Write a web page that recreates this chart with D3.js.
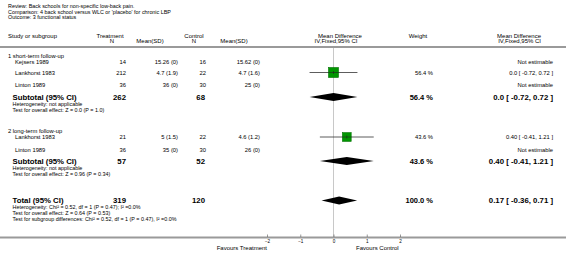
<!DOCTYPE html>
<html><head><meta charset="utf-8">
<script src="https://cdn.jsdelivr.net/npm/d3@7/dist/d3.min.js"></script>
<style>html,body{margin:0;padding:0;background:#fff}svg{display:block}text{font-family:"Liberation Sans",Arial,sans-serif;fill:#000}</style>
</head><body>
<script>
// ---- data ----
const titleLines = ["Review:  Back schools for non-specific low-back pain.",
  "Comparison:  4 back school versus WLC or 'placebo' for chronic LBP",
  "Outcome:  3 functional status"];
const groupLabels = ["1 short-term follow-up", "2 long-term follow-up"];
const studyNames = ["Kejsers 1989", "Lankhorst 1983", "Linton 1989", "Lankhorst 1983", "Linton 1989"];
const studyGroup = [0, 0, 0, 1, 1];
const treatN = [14, 212, 36, 21, 36];
const treatMeanSD = ["15.26 (0)", "4.7 (1.9)", "36 (0)", "5 (1.5)", "35 (0)"];
const ctrlN = [16, 22, 30, 22, 30];
const ctrlMeanSD = ["15.62 (0)", "4.7 (1.6)", "25 (0)", "4.6 (1.2)", "26 (0)"];
const studyMD = [null, 0.0, null, 0.40, null];
const studyLo = [null, -0.72, null, -0.41, null];
const studyHi = [null, 0.72, null, 1.21, null];
const studyWeight = [null, 56.4, null, 43.6, null];
const studyLabel = ["Not estimable", "0.0 [ -0.72, 0.72 ]", "Not estimable", "0.40 [ -0.41, 1.21 ]", "Not estimable"];

const subTreatN = [262, 57];
const subCtrlN = [68, 52];
const subMD = [0.0, 0.40];
const subLo = [-0.72, -0.41];
const subHi = [0.72, 1.21];
const subWeight = ["56.4 %", "43.6 %"];
const subLabel = ["0.0 [ -0.72, 0.72 ]", "0.40 [ -0.41, 1.21 ]"];
const subHet = ["Heterogeneity: not applicable", "Heterogeneity: not applicable"];
const subTest = ["Test for overall effect: Z = 0.0 (P = 1.0)", "Test for overall effect: Z = 0.96 (P = 0.34)"];

const totalTreatN = 319, totalCtrlN = 120;
const totalMD = 0.17, totalLo = -0.36, totalHi = 0.71;
const totalWeight = "100.0 %";
const totalLabel = "0.17 [ -0.36, 0.71 ]";
const totalNotes = ["Heterogeneity: Chi\u00B2 = 0.52, df = 1 (P = 0.47); I\u00B2 =0.0%",
  "Test for overall effect: Z = 0.64 (P = 0.53)",
  "Test for subgroup differences: Chi\u00B2 = 0.52, df = 1  (P = 0.47), I\u00B2 =0.0%"];

const axisTicks = [-2, -1, 0, 1, 2];
const favoursLeft = "Favours Treatment", favoursRight = "Favours Control";

// ---- layout ----
const W = 566, H = 260;
const svg = d3.select("body").append("svg").attr("width", W).attr("height", H);
svg.append("rect").attr("width", W).attr("height", H).attr("fill", "#fff");

const x = d3.scaleLinear().domain([-2, 2]).range([267, 400]);
const xN_T = 126, xM_T = 178, xN_C = 206, xM_C = 260, xW = 433, xE = 553;
const fRow = 5.8, fHead = 6, fNote = 5.4, fBold = 7.8;

function txt(s, xx, yy, opt = {}) {
  return svg.append("text").attr("x", xx).attr("y", yy).attr("dy", "0.35em")
    .attr("font-size", opt.size || fRow)
    .attr("font-weight", opt.bold ? "bold" : null)
    .attr("text-anchor", opt.anchor || "start")
    .text(s);
}

// titles
titleLines.forEach((s, i) => txt(s, 8, 6 + i * 5.7, {size: 5.4}));

// column headers
const h1 = 35.5, h2 = 41;
txt("Study or subgroup", 8, h1, {size: fHead});
txt("Treatment", 110, h1, {size: fHead, anchor: "middle"});
txt("N", 112, h2, {size: fHead, anchor: "middle"});
txt("Mean(SD)", 150, h2, {size: fHead, anchor: "middle"});
txt("Control", 194, h1, {size: fHead, anchor: "middle"});
txt("N", 194, h2, {size: fHead, anchor: "middle"});
txt("Mean(SD)", 234, h2, {size: fHead, anchor: "middle"});
txt("Mean Difference", 340, h1, {size: fHead, anchor: "middle"});
txt("IV,Fixed,95% CI", 336, h2, {size: fHead, anchor: "middle"});
txt("Weight", 418, h1, {size: fHead, anchor: "middle"});
txt("Mean Difference", 541, h1, {size: fHead, anchor: "end"});
txt("IV,Fixed,95% CI", 541, h2, {size: fHead, anchor: "end"});

const ruleY = 47, axisY = 237.5;
svg.append("line").attr("x1", 0).attr("x2", W).attr("y1", ruleY).attr("y2", ruleY)
  .attr("stroke", "#9a9a9a").attr("stroke-width", 2);

// zero line
svg.append("line").attr("x1", x(0)).attr("x2", x(0)).attr("y1", ruleY + 1).attr("y2", axisY)
  .attr("stroke", "#c8c8c8").attr("stroke-width", 1);

// rows
const groupY = [55.5, 130.5];
const studyY = [61.5, 72.5, 85, 137, 149.5];
const subY = [97, 161];
const sqK = 1.33;

groupLabels.forEach((g, i) => txt(g, 8, groupY[i], {size: fRow}));

studyNames.forEach((s, i) => {
  const y = studyY[i];
  txt(s, 15, y, {size: fRow});
  txt(treatN[i], xN_T, y, {size: fRow, anchor: "end"});
  txt(treatMeanSD[i], xM_T, y, {size: fRow, anchor: "end"});
  txt(ctrlN[i], xN_C, y, {size: fRow, anchor: "end"});
  txt(ctrlMeanSD[i], xM_C, y, {size: fRow, anchor: "end"});
  txt(studyLabel[i], xE, y, {size: fRow, anchor: "end"});
  if (studyMD[i] !== null) {
    txt(studyWeight[i].toFixed(1) + " %", xW, y, {size: fRow, anchor: "end"});
    svg.append("line").attr("x1", x(studyLo[i])).attr("x2", x(studyHi[i]))
      .attr("y1", y).attr("y2", y).attr("stroke", "#333").attr("stroke-width", 0.8);
    const s2 = sqK * Math.sqrt(studyWeight[i]) / 2;
    svg.append("rect").attr("x", x(studyMD[i]) - s2).attr("y", y - s2)
      .attr("width", 2 * s2).attr("height", 2 * s2)
      .attr("fill", "#009600").attr("stroke", "#007000").attr("stroke-width", 0.6);
    svg.append("line").attr("x1", x(studyMD[i])).attr("x2", x(studyMD[i]))
      .attr("y1", y - 1.5).attr("y2", y + 1.5).attr("stroke", "#222").attr("stroke-width", 0.6);
    svg.append("line").attr("x1", x(studyMD[i]) - s2).attr("x2", x(studyMD[i]) + s2)
      .attr("y1", y).attr("y2", y).attr("stroke", "#222").attr("stroke-width", 0.6);
  }
});

function diamond(md, lo, hi, y) {
  const p = [[x(lo), y], [x(md), y - 4], [x(hi), y], [x(md), y + 4]];
  svg.append("path").attr("d", "M" + p.join("L") + "Z").attr("fill", "#000");
}

subY.forEach((y, i) => {
  txt("Subtotal (95% CI)", 12.5, y, {size: fBold, bold: true});
  txt(subTreatN[i], xN_T, y, {size: fBold, bold: true, anchor: "end"});
  txt(subCtrlN[i], xN_C - 1, y, {size: fBold, bold: true, anchor: "end"});
  txt(subWeight[i], xW, y, {size: 7.5, bold: true, anchor: "end"});
  txt(subLabel[i], xE, y, {size: fBold, bold: true, anchor: "end"});
  diamond(subMD[i], subLo[i], subHi[i], y);
  txt(subHet[i], 12.5, y + 6.9, {size: fNote});
  txt(subTest[i], 12.5, y + 12.8, {size: fNote});
});

const totY = 200.5;
txt("Total (95% CI)", 12.5, totY, {size: fBold, bold: true});
txt(totalTreatN, xN_T, totY, {size: fBold, bold: true, anchor: "end"});
txt(totalCtrlN, xN_C - 1, totY, {size: fBold, bold: true, anchor: "end"});
txt(totalWeight, xW, totY, {size: 7.5, bold: true, anchor: "end"});
txt(totalLabel, xE, totY, {size: fBold, bold: true, anchor: "end"});
diamond(totalMD, totalLo, totalHi, totY);
totalNotes.forEach((s, i) => txt(s, 12.5, totY + 6.9 + i * 5.7, {size: fNote}));

// axis
svg.append("line").attr("x1", 0).attr("x2", W).attr("y1", axisY).attr("y2", axisY)
  .attr("stroke", "#9a9a9a").attr("stroke-width", 2);
const ax = d3.axisBottom(x).tickValues(axisTicks).tickSize(0).tickPadding(0).tickFormat(d3.format("d"));
const axG = svg.append("g").attr("transform", `translate(0,${axisY + 1})`).call(ax);
axG.select(".domain").remove();
axG.selectAll(".tick text").attr("font-size", 4.6).attr("font-family", "Liberation Sans, Arial, sans-serif")
  .attr("fill", "#000").attr("dy", "0.9em");
axG.selectAll(".tick").append("line").attr("y1", -4).attr("y2", -1.5).attr("stroke", "#555").attr("stroke-width", 0.6);
txt(favoursLeft, x(-2), 248, {size: 6, anchor: "end"});
txt(favoursRight, 356, 248, {size: 6});
</script>
</body></html>
